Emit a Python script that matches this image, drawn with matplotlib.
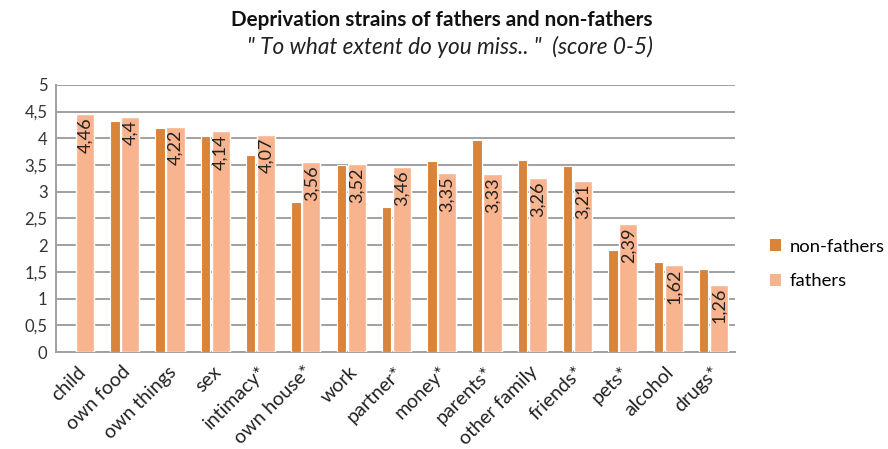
import numpy as np
import matplotlib
matplotlib.use("Agg")
import matplotlib.pyplot as plt
import matplotlib.transforms as mtransforms
from matplotlib.patches import Patch

plt.rcParams['font.family'] = ['Lato', 'DejaVu Sans']

categories = ["child", "own food", "own things", "sex", "intimacy*", "own house*", "work",
              "partner*", "money*", "parents*", "other family", "friends*", "pets*", "alcohol", "drugs*"]
non_fathers = [np.nan, 4.33, 4.19, 4.04, 3.69, 2.81, 3.50, 2.72, 3.58, 3.97, 3.60, 3.48, 1.91, 1.69, 1.55]
fathers = [4.46, 4.4, 4.22, 4.14, 4.07, 3.56, 3.52, 3.46, 3.35, 3.33, 3.26, 3.21, 2.39, 1.62, 1.26]
father_labels = ["4,46", "4,4", "4,22", "4,14", "4,07", "3,56", "3,52", "3,46", "3,35", "3,33",
                 "3,26", "3,21", "2,39", "1,62", "1,26"]
yticks = [0, 0.5, 1, 1.5, 2, 2.5, 3, 3.5, 4, 4.5, 5]
ytick_labels = ["0", "0,5", "1", "1,5", "2", "2,5", "3", "3,5", "4", "4,5", "5"]

dark = "#D9843B"
light = "#F8B48E"

fig = plt.figure(figsize=(8.88, 4.49), dpi=100)
ax = fig.add_axes([0.063, 0.216, 0.765, 0.595])

x = np.arange(len(categories))
ax.bar(x - 0.20, non_fathers, width=0.21, color=dark, edgecolor="white", linewidth=0.8, zorder=3)
ax.bar(x + 0.14, fathers, width=0.40, color=light, edgecolor="white", linewidth=1.0, zorder=3)

for xi, v, lab in zip(x, fathers, father_labels):
    ax.text(xi + 0.14, v - 0.06, lab, rotation=90, ha="center", va="top",
            fontsize=13, color="#222222", zorder=4)

ax.set_xlim(-0.5, len(categories) - 0.5)
ax.set_ylim(0, 5)
ax.set_yticks(yticks)
ax.set_yticklabels(ytick_labels, fontsize=12, color="#333333")
ax.set_xticks(x)
ax.set_xticklabels(categories, rotation=45, ha="right", rotation_mode="anchor", fontsize=14, color="#222222")
ax.tick_params(axis="both", length=0, pad=6)
ax.tick_params(axis="x", pad=8)
offset = mtransforms.ScaledTranslation(-2 / 100, 0, fig.dpi_scale_trans)
for lbl in ax.get_xticklabels():
    lbl.set_transform(lbl.get_transform() + offset)

ax.yaxis.grid(True, color="#A0A0A0", linewidth=1.4, zorder=0)
ax.set_axisbelow(True)
for s in ["top", "right"]:
    ax.spines[s].set_visible(False)
for s in ["left", "bottom"]:
    ax.spines[s].set_color("#A0A0A0")
    ax.spines[s].set_linewidth(1.4)

handles = [Patch(facecolor=dark, edgecolor="none", label="non-fathers"),
           Patch(facecolor=light, edgecolor="none", label="fathers")]
fig.legend(handles=handles, loc="center left", bbox_to_anchor=(0.848, 0.412), frameon=False,
           fontsize=13.3, handlelength=0.6, handleheight=0.6, handletextpad=0.5, labelspacing=1.0)

fig.text(0.497, 0.955, "Deprivation strains of fathers and non-fathers", ha="center", va="center",
         fontsize=14.9, fontweight="bold", color="#111111")
fig.text(0.507, 0.895, "\" To what extent do you miss.. \"  (score 0-5)", ha="center", va="center",
         fontsize=16.3, fontstyle="italic", color="#222222")

fig.savefig("out.png", dpi=100)
